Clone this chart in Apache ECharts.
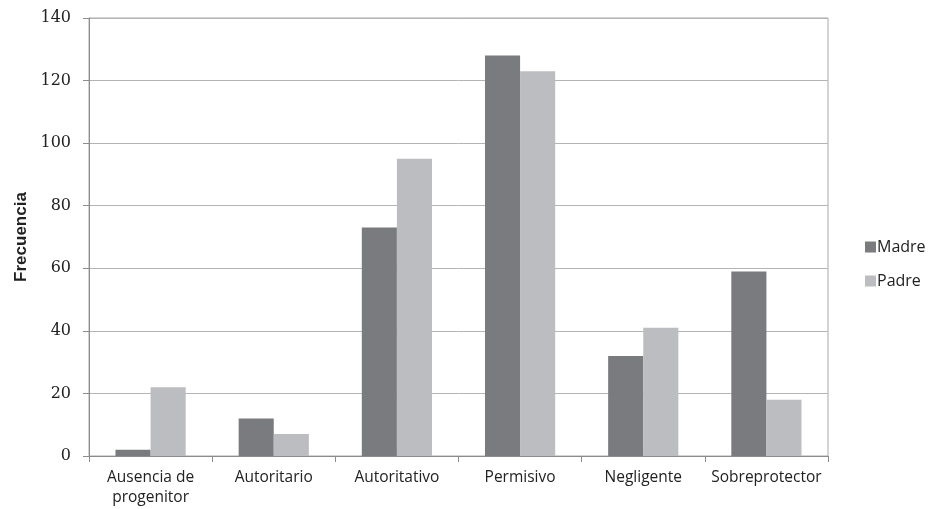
<!DOCTYPE html>
<html>
<head>
<meta charset="utf-8">
<script src="https://cdn.jsdelivr.net/npm/echarts@6/dist/echarts.min.js"></script>
<style>
  html, body { margin: 0; padding: 0; background: #fff; }
  #main { width: 930px; height: 509px; }
</style>
</head>
<body>
<div id="main"></div>
<script>
// data
const categories = ['Ausencia de\nprogenitor', 'Autoritario', 'Autoritativo', 'Permisivo', 'Negligente', 'Sobreprotector'];
const madre = [2, 12, 73, 128, 32, 59];
const padre = [22, 7, 95, 123, 41, 18];

const chart = echarts.init(document.getElementById('main'));
chart.setOption({
  animation: false,
  grid: {
    left: 89, right: 102, top: 18, bottom: 53,
    show: true, borderColor: '#a9a9a9', borderWidth: 1
  },
  legend: {
    orient: 'vertical',
    left: 860, top: 232,
    itemWidth: 11, itemHeight: 11, itemGap: 14,
    icon: 'rect',
    textStyle: { fontFamily: 'Open Sans', fontSize: 16, lineHeight: 20, color: '#222', padding: [0, 0, 0, -4] },
    data: ['Madre', 'Padre']
  },
  xAxis: {
    type: 'category',
    data: categories,
    axisLine: { lineStyle: { color: '#8c8c8c' } },
    axisTick: { show: true, length: 6, lineStyle: { color: '#8c8c8c' } },
    axisLabel: { interval: 0, fontFamily: 'Open Sans', fontSize: 15.5, color: '#222', lineHeight: 20, margin: 12 }
  },
  yAxis: {
    type: 'value',
    min: 0, max: 140, interval: 20,
    name: 'Frecuencia',
    nameLocation: 'middle',
    nameGap: 59,
    nameTextStyle: { fontFamily: 'Liberation Sans', fontWeight: 'bold', fontSize: 17, color: '#222' },
    axisLine: { show: true, lineStyle: { color: '#8c8c8c' } },
    axisTick: { show: true, length: 6, lineStyle: { color: '#8c8c8c' } },
    axisLabel: { fontFamily: 'DejaVu Serif', fontSize: 16, color: '#222', margin: 18 },
    splitLine: { lineStyle: { color: '#b4b4b4', width: 1 } }
  },
  series: [
    {
      name: 'Madre', type: 'bar', data: madre,
      barGap: '0%', barCategoryGap: '43%',
      itemStyle: { color: '#7a7b7f' }
    },
    {
      name: 'Padre', type: 'bar', data: padre,
      itemStyle: { color: '#bcbdc0' }
    }
  ]
});
</script>
</body>
</html>
